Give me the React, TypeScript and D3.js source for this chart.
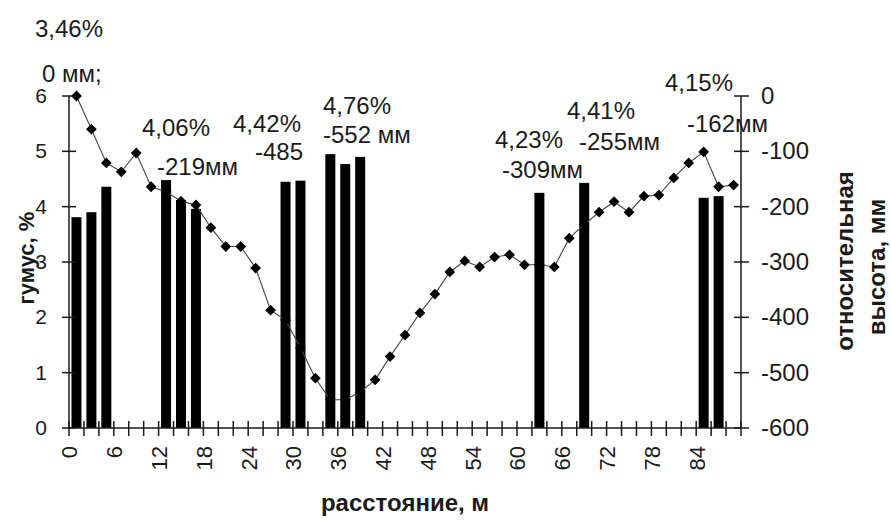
import React, { useRef, useEffect } from 'react';
import * as d3 from 'd3';

// distance along the transect, m (one category every 2 m)
const DISTANCES = [
  0, 2, 4, 6, 8, 10, 12, 14, 16, 18, 20, 22, 24, 26, 28, 30, 32, 34, 36, 38, 40, 42,
  44, 46, 48, 50, 52, 54, 56, 58, 60, 62, 64, 66, 68, 70, 72, 74, 76, 78, 80, 82, 84, 86, 88
];

// relative height of the surface, mm (right axis)
const RELATIVE_HEIGHT = [
  0, -60, -121, -137, -103, -164, -173, -190, -197, -238, -272, -272, -311, -387, -405,
  -455, -510, -549, -549, -535, -513, -471, -432, -392, -358, -318, -298, -309, -291, -287,
  -305, -305, -309, -257, -232, -210, -191, -210, -181, -179, -148, -121, -101, -164, -161
];

// humus content at sampling points, % (left axis)
const SAMPLE_DISTANCES = [0, 2, 4, 12, 14, 16, 28, 30, 34, 36, 38, 62, 68, 84, 86];
const HUMUS = [3.81, 3.9, 4.36, 4.48, 4.12, 3.96, 4.45, 4.47, 4.95, 4.77, 4.9, 4.25, 4.43, 4.16, 4.19];

const X_TICK_LABELS = [0, 6, 12, 18, 24, 30, 36, 42, 48, 54, 60, 66, 72, 78, 84];
const LEFT_TICKS = [0, 1, 2, 3, 4, 5, 6];
const RIGHT_TICKS = [0, -100, -200, -300, -400, -500, -600];

const NOTES = [
  '3,46%', '0 мм;', '4,06%', '-219мм', '4,42%', '-485', '4,76%', '-552 мм',
  '4,23%', '-309мм', '4,41%', '-255мм', '4,15%', '-162мм'
];

const FONT = '"Liberation Sans", Arial, sans-serif';
const INK = '#1b1b1b';

const App: React.FC = () => {
  const svgRef = useRef<SVGSVGElement>(null);

  useEffect(() => {
    if (!svgRef.current) return;
    const svg = d3.select(svgRef.current);
    svg.selectAll('*').remove();

    const left = 69, right = 741, top = 96, bottom = 428;

    const x = d3.scaleBand<number>()
      .domain(DISTANCES)
      .range([left, right])
      .paddingInner(0.33)
      .paddingOuter(0.165);
    const step = x.step();
    const cx = (d: number) => (x(d) as number) + x.bandwidth() / 2;

    const yLeft = d3.scaleLinear().domain([0, 6]).range([bottom, top]);
    const yRight = d3.scaleLinear().domain([-600, 0]).range([bottom, top]);

    // bars: humus
    svg.append('g')
      .selectAll('rect')
      .data(SAMPLE_DISTANCES)
      .join('rect')
      .attr('x', d => x(d) as number)
      .attr('width', x.bandwidth())
      .attr('y', (d, i) => yLeft(HUMUS[i]))
      .attr('height', (d, i) => bottom - yLeft(HUMUS[i]))
      .attr('fill', '#000');

    // line: relative height
    const line = d3.line<number>()
      .x((d, i) => cx(DISTANCES[i]))
      .y(d => yRight(d));
    svg.append('path')
      .datum(RELATIVE_HEIGHT)
      .attr('d', line)
      .attr('fill', 'none')
      .attr('stroke', '#444')
      .attr('stroke-width', 1.1);

    const diamond = d3.symbol().type(d3.symbolSquare).size(58);
    svg.append('g')
      .selectAll('path')
      .data(RELATIVE_HEIGHT)
      .join('path')
      .attr('d', diamond)
      .attr('transform', (d, i) => `translate(${cx(DISTANCES[i])},${yRight(d)}) rotate(45)`)
      .attr('fill', '#000');

    // axes
    const axes = svg.append('g').attr('stroke', INK).attr('stroke-width', 1.5);
    axes.append('line').attr('x1', left).attr('x2', left).attr('y1', top).attr('y2', bottom);
    axes.append('line').attr('x1', right).attr('x2', right).attr('y1', top).attr('y2', bottom);
    axes.append('line').attr('x1', left).attr('x2', right).attr('y1', bottom).attr('y2', bottom);

    LEFT_TICKS.forEach(t => {
      axes.append('line').attr('x1', left - 7).attr('x2', left + 7)
        .attr('y1', yLeft(t)).attr('y2', yLeft(t));
    });
    RIGHT_TICKS.forEach(t => {
      axes.append('line').attr('x1', right - 7).attr('x2', right + 8)
        .attr('y1', yRight(t)).attr('y2', yRight(t));
    });
    // category boundaries on the x axis
    DISTANCES.forEach(d => {
      const bx = (x(d) as number) - (step - x.bandwidth()) / 2;
      axes.append('line').attr('x1', bx).attr('x2', bx).attr('y1', bottom - 7).attr('y2', bottom + 8);
    });
    axes.append('line').attr('x1', right).attr('x2', right).attr('y1', bottom - 7).attr('y2', bottom + 8);

    const text = svg.append('g').attr('font-family', FONT).attr('fill', INK);

    text.selectAll('text.yl')
      .data(LEFT_TICKS)
      .join('text')
      .attr('class', 'yl')
      .attr('x', 47)
      .attr('y', d => yLeft(d) + 7)
      .attr('text-anchor', 'end')
      .attr('font-size', 21)
      .text(d => d);

    text.selectAll('text.yr')
      .data(RIGHT_TICKS)
      .join('text')
      .attr('class', 'yr')
      .attr('x', 761)
      .attr('y', d => yRight(d) + 8)
      .attr('font-size', 24)
      .text(d => d);

    text.selectAll('text.xl')
      .data(X_TICK_LABELS)
      .join('text')
      .attr('class', 'xl')
      .attr('transform', d => `translate(${cx(d) + 1},446) rotate(-90)`)
      .attr('text-anchor', 'end')
      .attr('font-size', 22)
      .text(d => d);

    // axis titles
    text.append('text')
      .attr('transform', 'translate(34,258) rotate(-90)')
      .attr('text-anchor', 'middle')
      .attr('font-size', 22)
      .attr('font-weight', 'bold')
      .text('гумус, %');
    text.append('text')
      .attr('transform', 'translate(853,261) rotate(-90)')
      .attr('text-anchor', 'middle')
      .attr('font-size', 24)
      .attr('font-weight', 'bold')
      .text('относительная');
    text.append('text')
      .attr('transform', 'translate(885,267) rotate(-90)')
      .attr('text-anchor', 'middle')
      .attr('font-size', 24)
      .attr('font-weight', 'bold')
      .text('высота, мм');
    text.append('text')
      .attr('x', 405)
      .attr('y', 511)
      .attr('text-anchor', 'middle')
      .attr('font-size', 24)
      .attr('font-weight', 'bold')
      .text('расстояние, м');

    // value annotations (text start x, baseline y)
    const notePos: [number, number][] = [
      [35, 37], [42, 82], [142, 136], [157, 175], [233, 132], [255, 160], [323, 114],
      [323, 143], [495, 148], [502, 178], [567, 119], [579, 150], [665, 91], [687, 132]
    ];
    text.selectAll('text.note')
      .data(NOTES)
      .join('text')
      .attr('class', 'note')
      .attr('x', (d, i) => notePos[i][0])
      .attr('y', (d, i) => notePos[i][1])
      .attr('font-size', 24)
      .text(d => d);
  }, []);

  return (
    <svg
      ref={svgRef}
      width={891}
      height={521}
      style={{ position: 'absolute', left: 0, top: 0, background: '#fff' }}
    />
  );
};

export default App;
